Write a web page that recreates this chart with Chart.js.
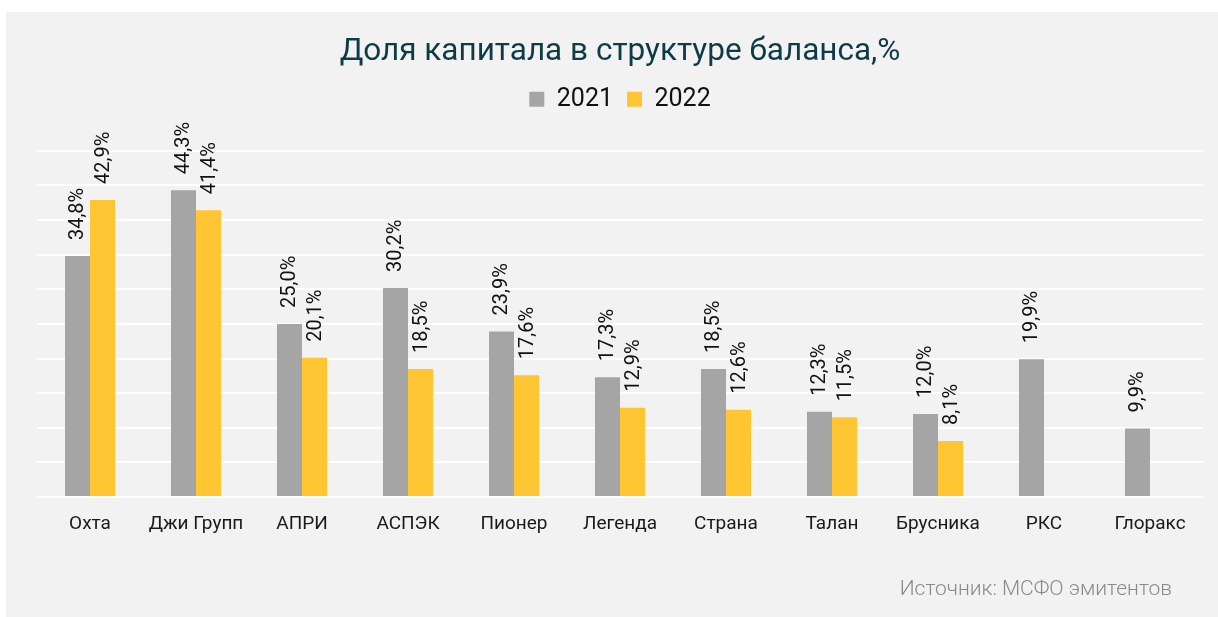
<!DOCTYPE html>
<html>
<head>
<meta charset="utf-8">
<script src="https://cdn.jsdelivr.net/npm/chart.js@4"></script>
<style>
  body { margin: 0; background: #fff; }
  canvas { display: block; }
</style>
</head>
<body>
<canvas id="chart" width="1218" height="617"></canvas>
<script>
const companies = ['Охта', 'Джи Групп', 'АПРИ', 'АСПЭК', 'Пионер', 'Легенда', 'Страна', 'Талан', 'Брусника', 'РКС', 'Глоракс'];
const share2021 = [34.8, 44.3, 25.0, 30.2, 23.9, 17.3, 18.5, 12.3, 12.0, 19.9, 9.9];
const share2022 = [42.9, 41.4, 20.1, 18.5, 17.6, 12.9, 12.6, 11.5, 8.1, null, null];
const seriesNames = ['2021', '2022'];
const sourceNote = 'Источник: МСФО эмитентов';

// grey panel on white page
const panelBg = {
    id: 'panelBg',
    beforeDraw(chart) {
        const ctx = chart.ctx;
        ctx.save();
        ctx.fillStyle = '#ffffff';
        ctx.fillRect(0, 0, chart.width, chart.height);
        ctx.fillStyle = '#f2f2f2';
        ctx.fillRect(6, 12, chart.width - 6, chart.height - 12);
        ctx.restore();
    }
};

// extra room under the legend
const legendGap = {
    id: 'legendGap',
    afterInit(chart) {
        const fit = chart.legend.fit;
        chart.legend.fit = function () {
            fit.bind(chart.legend)();
            this.height += 29;
        };
    }
};

// vertical value labels above bars
const barLabels = {
    id: 'barLabels',
    afterDatasetsDraw(chart) {
        const ctx = chart.ctx;
        ctx.save();
        ctx.font = '20px Roboto';
        ctx.fillStyle = '#111111';
        ctx.textAlign = 'left';
        ctx.textBaseline = 'middle';
        chart.data.datasets.forEach((ds, i) => {
            const meta = chart.getDatasetMeta(i);
            meta.data.forEach((bar, j) => {
                const v = ds.data[j];
                if (v === null || v === undefined) return;
                ctx.save();
                ctx.translate(bar.x, bar.y - 16);
                ctx.rotate(-Math.PI / 2);
                ctx.fillText(v.toFixed(1).replace('.', ',') + '%', 0, 1);
                ctx.restore();
            });
        });
        ctx.restore();
    }
};

const sourceText = {
    id: 'sourceText',
    afterDraw(chart) {
        const ctx = chart.ctx;
        ctx.save();
        ctx.font = '300 21px Roboto';
        ctx.fillStyle = '#8a8a8a';
        ctx.textAlign = 'right';
        ctx.textBaseline = 'middle';
        ctx.fillText(sourceNote, 1172, 590);
        ctx.restore();
    }
};

const ctx = document.getElementById('chart').getContext('2d');
new Chart(ctx, {
    type: 'bar',
    data: {
        labels: companies,
        datasets: [
            { label: seriesNames[0], data: share2021, backgroundColor: '#a5a5a5' },
            { label: seriesNames[1], data: share2022, backgroundColor: '#ffc532' }
        ]
    },
    options: {
        responsive: false,
        animation: false,
        layout: { padding: { left: 37, right: 15, top: 0, bottom: 0 } },
        datasets: {
            bar: { categoryPercentage: 0.472, barPercentage: 1 }
        },
        plugins: {
            title: {
                display: true,
                text: 'Доля капитала в структуре баланса,%',
                color: '#0e3c46',
                font: { family: 'Roboto', size: 31.5, weight: 'normal' },
                padding: { top: 33, bottom: 2 }
            },
            legend: {
                display: true,
                labels: {
                    color: '#111111',
                    font: { family: 'Roboto', size: 25 },
                    boxWidth: 15,
                    boxHeight: 15,
                    padding: 14
                }
            },
            tooltip: { enabled: false }
        },
        scales: {
            x: {
                grid: { display: false, drawTicks: false },
                border: { display: false },
                ticks: {
                    color: '#1a1a1a',
                    font: { family: 'Roboto', size: 19 },
                    padding: 16,
                    maxRotation: 0,
                    autoSkip: false
                },
                afterFit(scale) { scale.height = 120; }
            },
            y: {
                min: 0,
                max: 50,
                ticks: { display: false, stepSize: 5 },
                grid: { color: '#ffffff', lineWidth: 2, drawTicks: false },
                border: { display: false }
            }
        }
    },
    plugins: [panelBg, legendGap, barLabels, sourceText]
});
</script>
</body>
</html>
